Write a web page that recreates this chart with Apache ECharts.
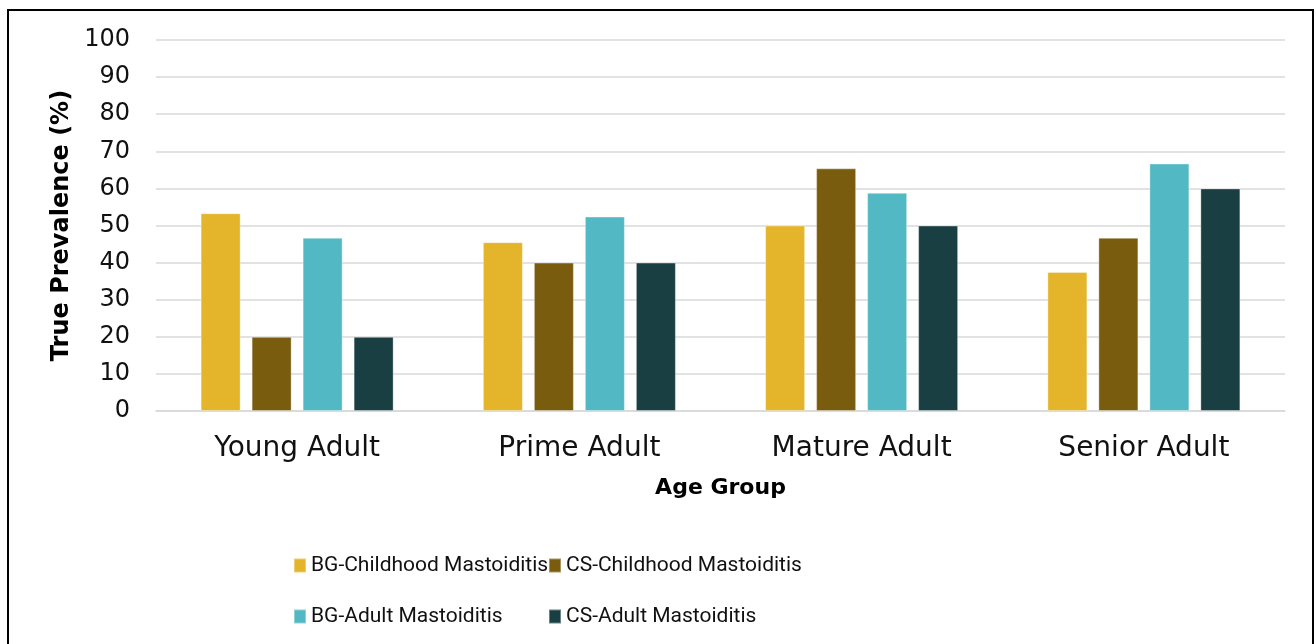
<!DOCTYPE html>
<html>
<head>
<meta charset="utf-8">
<script src="https://cdn.jsdelivr.net/npm/echarts@6/dist/echarts.min.js"></script>
<style>html,body{margin:0;padding:0;background:#fff}#c{width:1316px;height:644px}</style>
</head>
<body>
<div id="c"></div>
<script>
const categories = ['Young Adult', 'Prime Adult', 'Mature Adult', 'Senior Adult'];
const seriesNames = ['BG-Childhood Mastoiditis', 'CS-Childhood Mastoiditis', 'BG-Adult Mastoiditis', 'CS-Adult Mastoiditis'];
const bgChildhood = [53.3, 45.5, 50.0, 37.5];
const csChildhood = [20.0, 40.0, 65.4, 46.7];
const bgAdult = [46.7, 52.4, 58.8, 66.7];
const csAdult = [20.0, 40.0, 50.0, 60.0];
const colors = ['#E4B52A', '#7A5C0F', '#52B8C3', '#193F42'];

const FONT = 'DejaVu Sans';
const LFONT = 'Roboto';
const chart = echarts.init(document.getElementById('c'), null, {renderer: 'canvas'});
const values = [bgChildhood, csChildhood, bgAdult, csAdult];
const legendPos = [[293, 555], [548, 555], [293, 606], [548, 606]];
chart.setOption({
  animation: false,
  textStyle: {fontFamily: FONT},
  grid: {left: 156, right: 31, top: 40, bottom: 233},
  legend: seriesNames.map((n, i) => ({
    data: [n], left: legendPos[i][0], top: legendPos[i][1], padding: 0,
    itemWidth: 12, itemHeight: 14, icon: 'rect', itemGap: 0,
    textStyle: {fontFamily: LFONT, fontSize: 21, color: '#111', padding: [0, 0, 0, 0]}
  })),
  xAxis: {
    type: 'category', data: categories,
    name: 'Age Group', nameLocation: 'middle', nameGap: 66,
    nameTextStyle: {fontFamily: FONT, fontSize: 22, fontWeight: 'bold', color: '#000'},
    axisLine: {lineStyle: {color: '#d9d9d9', width: 1.5}},
    axisTick: {show: false},
    axisLabel: {fontSize: 28, color: '#111', margin: 24}
  },
  yAxis: {
    type: 'value', min: 0, max: 100, interval: 10,
    name: 'True Prevalence (%)', nameLocation: 'middle', nameGap: 82, nameRotate: 90,
    nameTextStyle: {fontFamily: FONT, fontSize: 24, fontWeight: 'bold', color: '#000'},
    axisLine: {show: false}, axisTick: {show: false},
    axisLabel: {fontSize: 24, color: '#111', margin: 26},
    splitLine: {lineStyle: {color: '#d9d9d9', width: 1.5}}
  },
  series: seriesNames.map((n, i) => ({
    name: n, type: 'bar', data: values[i], barWidth: 40, barGap: '27.5%',
    itemStyle: {color: colors[i], borderColor: 'rgba(255,255,255,0.35)', borderWidth: 1}
  })),
  graphic: [{
    type: 'rect', shape: {x: 8, y: 10, width: 1305, height: 650},
    style: {fill: 'none', stroke: '#000', lineWidth: 2}, silent: true
  }]
});
</script>
</body>
</html>
